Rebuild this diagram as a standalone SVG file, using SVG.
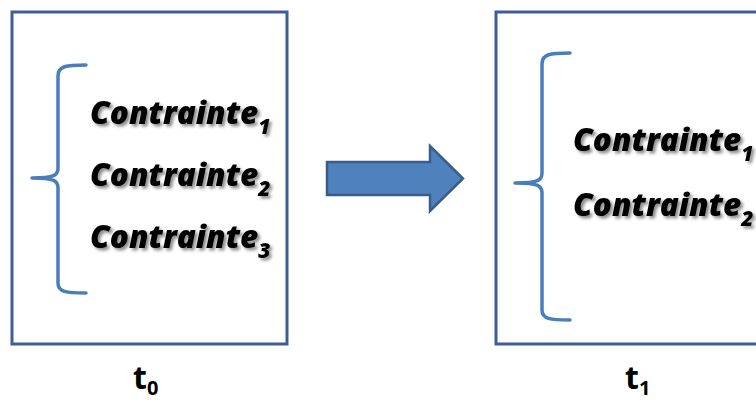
<svg xmlns="http://www.w3.org/2000/svg" width="756" height="403" viewBox="0 0 756 403">
  <defs>
    <filter id="shadow" x="-10%" y="-30%" width="130%" height="170%">
      <feDropShadow dx="2.5" dy="2.5" stdDeviation="1.6" flood-color="#000" flood-opacity="0.45"/>
    </filter>
  </defs>
  <style>
    .frame { fill: #fff; stroke: #3d5f91; stroke-width: 3; }
    .brace { fill: none; stroke: #4a7ebb; stroke-width: 3.5; stroke-linecap: round; stroke-linejoin: round; }
    .item { font-family: "Open Sans", "Liberation Sans", sans-serif; font-weight: 800; font-style: italic; font-size: 31.5px; fill: #000; filter: url(#shadow); }
    .sub { font-size: 21px; }
    .time { font-family: "Open Sans", "Liberation Sans", sans-serif; font-weight: bold; font-size: 32px; fill: #000; }
    .tsub { font-size: 20px; }
    .arrow { fill: #4f81bd; stroke: #385d8a; stroke-width: 2.5; stroke-linejoin: miter; }
  </style>

  <rect width="756" height="403" fill="#fff"/>

  <!-- state at t0 -->
  <g id="state-t0">
    <rect class="frame" x="12" y="12" width="275" height="332"/>
    <path class="brace" d="M86,65 C66,65 58,66 58,76 L58,168 C58,175 55,178 32,178 C55,178 58,181 58,188 L58,283 C58,292 66,293 86,293"/>
    <text class="item" x="90" y="124">Contrainte<tspan class="sub" dy="10">1</tspan></text>
    <text class="item" x="90" y="186">Contrainte<tspan class="sub" dy="10">2</tspan></text>
    <text class="item" x="90" y="248">Contrainte<tspan class="sub" dy="10">3</tspan></text>
    <text class="time" x="133" y="389">t<tspan class="tsub" dy="6">0</tspan></text>
  </g>

  <!-- state at t1 -->
  <g id="state-t1">
    <rect class="frame" x="496" y="12" width="275" height="332"/>
    <path class="brace" d="M570,53 C550,53 542,54 542,64 L542,173 C542,180 539,183 515,183 C539,183 542,186 542,193 L542,310 C542,319 550,320 570,320"/>
    <text class="item" x="573" y="151">Contrainte<tspan class="sub" dy="10">1</tspan></text>
    <text class="item" x="573" y="216">Contrainte<tspan class="sub" dy="10">2</tspan></text>
    <text class="time" x="625" y="389">t<tspan class="tsub" dy="6">1</tspan></text>
  </g>

  <!-- transition -->
  <g id="connectors">
    <path class="arrow" d="M327,162 L430,162 L430,146 L463,178.5 L430,211 L430,195 L327,195 Z"/>
  </g>
</svg>
